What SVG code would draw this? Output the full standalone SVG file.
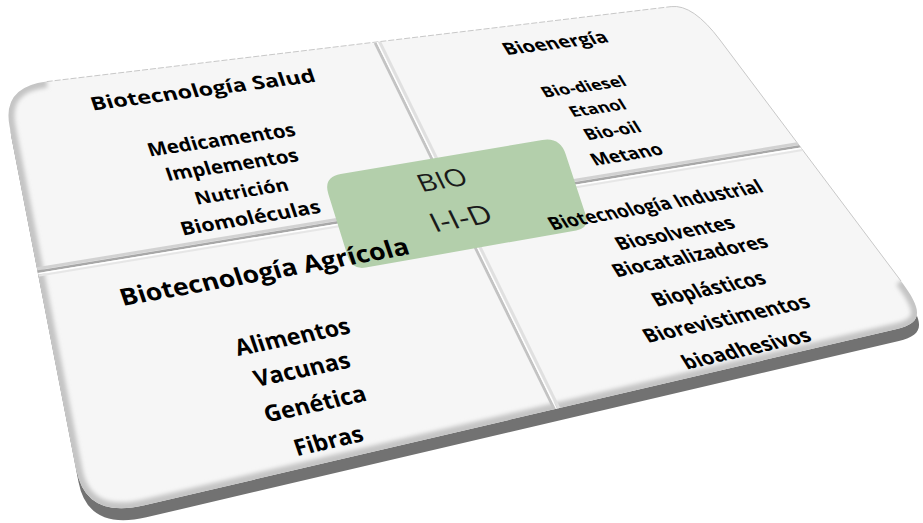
<svg xmlns="http://www.w3.org/2000/svg" width="923" height="523" viewBox="0 0 923 523">
<defs>
<style>
.t{font-family:"Open Sans","DejaVu Sans",sans-serif;font-weight:700;fill:#000;text-anchor:middle}
.c{font-family:"Open Sans","DejaVu Sans",sans-serif;font-weight:400;fill:#1a1a1a;text-anchor:middle}
.dv{fill:none;stroke-linecap:butt}
</style>
<path id="boardShape" d="M 46.7,81.6 L 671.2,6.6 Q 693,4 720,40 L 901,281 C 923.5,311 922.5,323 896.9,329 L 144.4,505.3 Q 86,519 76.5,469.9 L 9.6,126.3 Q 2,87 46.7,81.6 Z"/>
<clipPath id="clipBoard"><use href="#boardShape"/></clipPath>
<filter id="soft" x="-10%" y="-10%" width="120%" height="120%"><feGaussianBlur stdDeviation="2"/></filter>
</defs>

<g id="board">
<use href="#boardShape" transform="translate(2,12)" fill="#727272"/>
<use href="#boardShape" fill="#f6f6f6"/>
<g clip-path="url(#clipBoard)">
<path d="M 46.7,81.6 Q 2,87 9.6,126.3 L 76.5,469.9 Q 86,519 144.4,505.3 L 896.9,329 C 922.5,323 923.5,311 901,281" fill="none" stroke="#c4c4c4" stroke-width="12" filter="url(#soft)"/>
</g>
<path d="M 46.7,81.6 L 671.2,6.6" fill="none" stroke="#c8c8c8" stroke-width="1" stroke-dasharray="6 2"/>
<path d="M 671.2,6.6 Q 693,4 720,40 L 901,281" fill="none" stroke="#c8c8c8" stroke-width="1"/>
</g>

<g id="dividers" clip-path="url(#clipBoard)">
<line class="dv" x1="375.2" y1="42.9" x2="555.2" y2="410.9" stroke="#c3c3c3" stroke-width="3"/>
<line class="dv" x1="377" y1="42" x2="557" y2="410" stroke="#ffffff" stroke-width="1.2"/>
<line class="dv" x1="379.2" y1="40.9" x2="559.2" y2="408.9" stroke="#e0e0e0" stroke-width="3"/>
<line class="dv" x1="35.5" y1="269" x2="801.5" y2="143" stroke="#d2d2d2" stroke-width="3"/>
<line class="dv" x1="36" y1="272" x2="802" y2="146" stroke="#a8a8a8" stroke-width="2.5"/>
<line class="dv" x1="36.3" y1="274" x2="802.3" y2="148" stroke="#ffffff" stroke-width="1.5"/>
<line class="dv" x1="36.6" y1="276" x2="802.6" y2="150" stroke="#e6e6e6" stroke-width="2"/>
</g>

<g id="center">
<path d="M 340.7,174 L 542.3,140 Q 560,137 565.6,154.1 L 585.6,214.7 Q 590,228 576.2,230.4 L 365.8,267.6 Q 352,270 347.8,256.6 L 328.4,194.2 Q 323,177 340.7,174 Z" fill="#b3cfab"/>
<text class="c" font-size="23" textLength="48" lengthAdjust="spacingAndGlyphs" transform="matrix(1,-0.1636,0.485,1,446,188)">BIO</text>
<text class="c" font-size="25" textLength="60" lengthAdjust="spacingAndGlyphs" transform="matrix(1,-0.1757,0.485,1,465,227)">I-I-D</text>
</g>

<g id="q-salud">
<text class="t" font-size="18" textLength="224" lengthAdjust="spacingAndGlyphs" transform="matrix(1,-0.1285,0.341,1,205,96)">Biotecnología Salud</text>
<text class="t" font-size="18" textLength="147" lengthAdjust="spacingAndGlyphs" transform="matrix(1,-0.1425,0.342,1,223.5,146)">Medicamentos</text>
<text class="t" font-size="18" textLength="132" lengthAdjust="spacingAndGlyphs" transform="matrix(1,-0.1497,0.343,1,234,171)">Implementos</text>
<text class="t" font-size="17" textLength="93" lengthAdjust="spacingAndGlyphs" transform="matrix(1,-0.1573,0.343,1,243.5,197.5)">Nutrición</text>
<text class="t" font-size="18" textLength="139" lengthAdjust="spacingAndGlyphs" transform="matrix(1,-0.1647,0.343,1,252.5,224)">Biomoléculas</text>
</g>

<g id="q-energia">
<text class="t" font-size="16" textLength="103" lengthAdjust="spacingAndGlyphs" transform="matrix(1,-0.1277,0.621,1,558.5,48.5)">Bioenergía</text>
<text class="t" font-size="14" textLength="83" lengthAdjust="spacingAndGlyphs" transform="matrix(1,-0.1419,0.622,1,586.5,91.5)">Bio-diesel</text>
<text class="t" font-size="14" textLength="55" lengthAdjust="spacingAndGlyphs" transform="matrix(1,-0.1487,0.623,1,600.5,113)">Etanol</text>
<text class="t" font-size="15" textLength="55" lengthAdjust="spacingAndGlyphs" transform="matrix(1,-0.1563,0.624,1,615.5,136)">Bio-oil</text>
<text class="t" font-size="16" textLength="70" lengthAdjust="spacingAndGlyphs" transform="matrix(1,-0.1642,0.623,1,630,160)">Metano</text>
</g>

<g id="q-industrial">
<text class="t" font-size="17" textLength="212" lengthAdjust="spacingAndGlyphs" transform="matrix(1,-0.181,0.621,1,659,211)">Biotecnología Industrial</text>
<text class="t" font-size="17" textLength="117" lengthAdjust="spacingAndGlyphs" transform="matrix(1,-0.1908,0.622,1,678.5,239)">Biosolventes</text>
<text class="t" font-size="17" textLength="153" lengthAdjust="spacingAndGlyphs" transform="matrix(1,-0.1988,0.623,1,693.5,262)">Biocatalizadores</text>
<text class="t" font-size="18" textLength="111" lengthAdjust="spacingAndGlyphs" transform="matrix(1,-0.21,0.622,1,712.5,295)">Bioplásticos</text>
<text class="t" font-size="18" textLength="164" lengthAdjust="spacingAndGlyphs" transform="matrix(1,-0.2206,0.621,1,730,325)">Biorevistimentos</text>
<text class="t" font-size="18" textLength="126" lengthAdjust="spacingAndGlyphs" transform="matrix(1,-0.2313,0.622,1,750,355)">bioadhesivos</text>
</g>

<g id="q-agricola">
<text class="t" font-size="23" textLength="288" lengthAdjust="spacingAndGlyphs" transform="matrix(1,-0.1806,0.341,1,267,280)">Biotecnología Agrícola</text>
<text class="t" font-size="22" textLength="114" lengthAdjust="spacingAndGlyphs" transform="matrix(1,-0.1998,0.344,1,295,344.5)">Alimentos</text>
<text class="t" font-size="22" textLength="95" lengthAdjust="spacingAndGlyphs" transform="matrix(1,-0.209,0.343,1,304.5,377)">Vacunas</text>
<text class="t" font-size="22" textLength="101" lengthAdjust="spacingAndGlyphs" transform="matrix(1,-0.2195,0.344,1,317.5,411.5)">Genética</text>
<text class="t" font-size="22" textLength="68" lengthAdjust="spacingAndGlyphs" transform="matrix(1,-0.2305,0.344,1,331,448.5)">Fibras</text>
</g>
</svg>
